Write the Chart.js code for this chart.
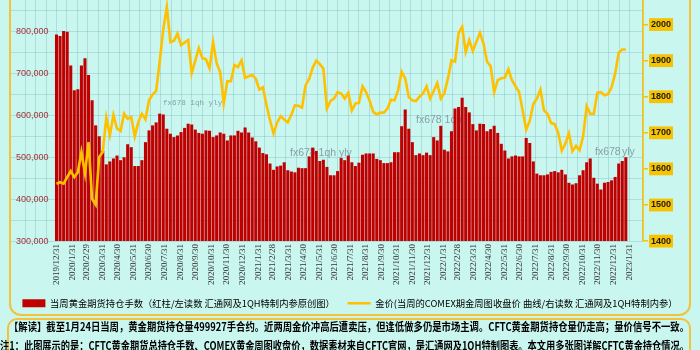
<!DOCTYPE html>
<html>
<head>
<meta charset="utf-8">
<script src="https://cdn.jsdelivr.net/npm/chart.js@4.4.0/dist/chart.umd.min.js"></script>
<style>
  html, body { margin: 0; padding: 0; background: #c9f6ef; }
</style>
</head>
<body>
<canvas id="Chart" width="700" height="350"></canvas>
<script>
// 每周数据：2019/12/31 ～ 2023/1/24
const startDate = '2019-12-31';
const weekStep = 7;

// 当周黄金期货持仓手数（红柱 / 左轴）
const holdings = [
  793000, 789000, 801000, 799000, 719000, 660000, 662000, 719000, 736000, 696000,
  636000, 576000, 550000, 515000, 483000, 490000, 497000, 504000, 493000, 500000,
  531000, 524000, 479000, 479000, 493000, 536000, 564000, 576000, 583000, 604000,
  602000, 568000, 556000, 548000, 552000, 560000, 570000, 580000, 578000, 566000,
  558000, 556000, 564000, 563000, 548000, 552000, 559000, 556000, 540000, 552000,
  552000, 563000, 559000, 571000, 559000, 547000, 538000, 523000, 510000, 507000,
  485000, 470000, 478000, 480000, 488000, 469000, 466000, 464000, 475000, 474000,
  474000, 502000, 523000, 515000, 491000, 494000, 477000, 457000, 457000, 467000,
  498000, 493000, 504000, 488000, 479000, 487000, 506000, 509000, 509000, 509000,
  496000, 493000, 486000, 486000, 488000, 512000, 512000, 574000, 614000, 568000,
  536000, 505000, 509000, 505000, 511000, 505000, 548000, 540000, 575000, 518000,
  514000, 562000, 616000, 620000, 642000, 620000, 607000, 579000, 564000, 580000,
  579000, 562000, 567000, 575000, 558000, 532000, 516000, 497000, 502000, 504000,
  502000, 502000, 546000, 534000, 490000, 461000, 457000, 457000, 459000, 465000,
  467000, 464000, 470000, 459000, 439000, 435000, 438000, 457000, 469000, 488000,
  497000, 451000, 437000, 423000, 439000, 441000, 445000, 453000, 485000, 491000,
  499927
];

// COMEX 期金周收盘价（曲线 / 右轴）
const goldPrice = [
  1559, 1563, 1559, 1577, 1594, 1577, 1591, 1647, 1587, 1674,
  1517, 1501, 1633, 1647, 1742, 1693, 1749, 1712, 1705, 1753,
  1739, 1744, 1690, 1730, 1753, 1737, 1790, 1806, 1816, 1897,
  1986, 2049, 1951, 1955, 1975, 1943, 1950, 1957, 1865, 1900,
  1935, 1907, 1904, 1879, 1951, 1893, 1868, 1782, 1843, 1843,
  1888, 1882, 1901, 1852, 1857, 1860, 1850, 1820, 1826, 1778,
  1735, 1698, 1728, 1746, 1737, 1729, 1750, 1776, 1775, 1770,
  1832, 1849, 1880, 1900, 1890, 1878, 1767, 1788, 1795, 1813,
  1809, 1795, 1811, 1762, 1781, 1783, 1829, 1813, 1789, 1758,
  1751, 1756, 1756, 1767, 1792, 1790, 1818, 1869, 1851, 1799,
  1790, 1788, 1800, 1809, 1829, 1795, 1816, 1838, 1795, 1810,
  1850, 1901, 1897, 1976, 1994, 1924, 1957, 1927, 1952, 1977,
  1948, 1897, 1885, 1813, 1846, 1851, 1853, 1876, 1846, 1829,
  1813, 1762, 1709, 1733, 1780, 1795, 1820, 1762, 1753, 1727,
  1724, 1700, 1651, 1670, 1699, 1649, 1664, 1652, 1690, 1774,
  1753, 1753, 1811, 1813, 1804, 1807, 1826, 1864, 1922, 1931,
  1931
];

// 横轴月末刻度
const monthLabels = [
  '2019/12/31', '2020/1/31', '2020/2/29', '2020/3/31', '2020/4/30', '2020/5/31',
  '2020/6/30', '2020/7/31', '2020/8/31', '2020/9/30', '2020/10/31', '2020/11/30',
  '2020/12/31', '2021/1/31', '2021/2/28', '2021/3/31', '2021/4/30', '2021/5/31',
  '2021/6/30', '2021/7/31', '2021/8/31', '2021/9/30', '2021/10/31', '2021/11/30',
  '2021/12/31', '2022/1/31', '2022/2/28', '2022/3/31', '2022/4/30', '2022/5/31',
  '2022/6/30', '2022/7/31', '2022/8/31', '2022/9/30', '2022/10/31', '2022/11/30',
  '2022/12/31', '2023/1/31'
];

const barLabel = '当周黄金期货持仓手数（红柱/左读数 汇通网及1QH特制内参原创图）\u3000';
const lineLabel = '金价(当周的COMEX期金周图收盘价 曲线/右读数 汇通网及1QH特制内参）';

const note1 = '【解读】截至1月24日当周，黄金期货持仓量499927手合约。近两周金价冲高后遭卖压，但逢低做多仍是市场主调。CFTC黄金期货持仓量仍走高；量价信号不一致。';
const note2 = '注1：此图展示的是：CFTC黄金期货总持仓手数、COMEX黄金周图收盘价，数据素材来自CFTC官网，是汇通网及1QH特制图表。本文用多张图详解CFTC黄金持仓情况。';

// 日期换算成天数
const DAY = 86400000;
const t0 = Date.parse(startDate);
const dayOf = s => { const [y, m, d] = s.split('/').map(Number); return (Date.UTC(y, m - 1, d) - t0) / DAY; };
const weekDays = holdings.map((_, i) => i * weekStep);
const tickDays = monthLabels.map(dayOf);

const xMin = -91.5, xMax = 1153.8;
const bg = '#c9f6ef';
const gridColor = 'rgba(110,175,185,0.33)';
const gold = '#ffc000';

const framePlugin = {
  id: 'frame',
  beforeDraw(chart) {
    const c = chart.ctx;
    c.save();
    c.fillStyle = bg;
    c.fillRect(0, 0, chart.width, chart.height);
    c.restore();
  },
  beforeDatasetsDraw(chart) {
    // 水印
    const c = chart.ctx;
    c.save();
    c.fillStyle = 'rgba(120,145,155,0.85)';
    c.textBaseline = 'middle';
    c.font = '7.6px "Liberation Mono"';
    c.fillText('fx678 1qh yly', 163, 103);
    c.font = '10.5px "Liberation Sans"';
    c.fillText('fx678 1qh yly', 290, 153);
    c.fillText('fx678 1qh', 416, 120);
    c.fillText('fx678', 595, 152);
    c.fillText('yly', 622, 152);
    c.restore();
  },
  afterDraw(chart) {
    const c = chart.ctx;
    const rr = (x, y, w, h, r) => {
      c.beginPath();
      c.moveTo(x + r, y);
      c.arcTo(x + w, y, x + w, y + h, r);
      c.arcTo(x + w, y + h, x, y + h, r);
      c.arcTo(x, y + h, x, y, r);
      c.arcTo(x, y, x + w, y, r);
      c.closePath();
      c.stroke();
    };
    c.save();
    c.strokeStyle = '#f2c23a';
    c.lineWidth = 2;
    rr(10, -20, 680, 335, 11);
    rr(8, 319, 682, 60, 9);
    c.fillStyle = '#000';
    c.textBaseline = 'middle';
    c.font = 'bold 11px "Noto Sans CJK SC"';
    c.fillText(note1, 9, 327, 680);
    c.fillText(note2, 0, 346, 689);
    c.restore();
  }
};

const ctx = document.getElementById('Chart');
new Chart(ctx, {
  data: {
    datasets: [
      {
        type: 'bar',
        label: barLabel,
        data: weekDays.map((x, i) => ({ x, y: holdings[i] })),
        backgroundColor: '#c00000',
        borderWidth: 0,
        categoryPercentage: 1,
        barPercentage: 0.86,
        pointStyle: 'rect',
        xAxisID: 'x',
        yAxisID: 'y',
        order: 1
      },
      {
        type: 'line',
        label: lineLabel,
        data: weekDays.map((x, i) => ({ x, y: goldPrice[i] })),
        borderColor: gold,
        backgroundColor: gold,
        borderWidth: 2.6,
        pointRadius: 0,
        pointBorderWidth: 2.6,
        pointBorderColor: gold,
        pointStyle: 'line',
        tension: 0,
        xAxisID: 'x',
        yAxisID: 'y1',
        order: 0
      }
    ]
  },
  options: {
    responsive: false,
    animation: false,
    devicePixelRatio: 1,
    layout: { padding: { left: 0, right: 0, top: 0, bottom: 32.1 } },
    plugins: {
      legend: {
        position: 'bottom',
        labels: {
          usePointStyle: true,
          pointStyleWidth: 23,
          boxHeight: 8,
          padding: 8,
          color: '#000',
          font: { family: '"Noto Sans CJK SC"', size: 9.3 },
          sort: (a, b) => a.datasetIndex - b.datasetIndex
        }
      },
      tooltip: { enabled: false }
    },
    scales: {
      x: {
        type: 'linear',
        position: 'bottom',
        min: xMin,
        max: xMax,
        offset: false,
        afterBuildTicks: s => { s.ticks = tickDays.map(v => ({ value: v })); },
        afterFit: s => { s.height = 49.5; s.paddingLeft = 0; s.paddingRight = 0; },
        ticks: {
          autoSkip: false,
          maxRotation: 90,
          minRotation: 90,
          padding: 3,
          color: '#333',
          font: { family: '"Liberation Serif"', size: 9 },
          callback: (v, i) => monthLabels[i]
        },
        grid: { display: false, drawTicks: false },
        border: { display: false }
      },
      xg: {
        type: 'linear',
        position: 'bottom',
        min: xMin,
        max: xMax,
        afterFit: s => { s.height = 0; s.paddingLeft = 0; s.paddingRight = 0; },
        ticks: { display: false, stepSize: 20.5 },
        grid: { color: gridColor, drawTicks: false },
        border: { display: false }
      },
      y: {
        type: 'linear',
        position: 'left',
        min: 300000,
        max: 875000,
        afterFit: s => { s.width = 10; s.paddingTop = 0; s.paddingBottom = 0; },
        ticks: {
          stepSize: 25000,
          includeBounds: false,
          mirror: true,
          crossAlign: 'far',
          padding: 6,
          color: '#a8303a',
          font: { family: '"Liberation Sans"', size: 9 },
          callback: v => (v % 100000 === 0 ? v.toLocaleString('en-US') : '')
        },
        grid: { color: gridColor, drawTicks: false },
        border: { display: false }
      },
      y1: {
        type: 'linear',
        position: 'right',
        min: 1400,
        max: 2068,
        afterFit: s => { s.width = 57; s.paddingTop = 0; s.paddingBottom = 0; },
        ticks: {
          stepSize: 100,
          includeBounds: false,
          padding: 3,
          color: '#1a1a1a',
          font: { family: '"Liberation Sans"', size: 9, weight: 'bold' },
          showLabelBackdrop: true,
          backdropColor: '#f7c300',
          backdropPadding: { x: 2, y: 1 },
          callback: v => String(v)
        },
        grid: { drawOnChartArea: false, drawTicks: true, tickLength: 5, color: gold, lineWidth: 1.5 },
        border: { display: true, color: gold, width: 1.5 }
      }
    }
  },
  plugins: [framePlugin]
});
</script>
</body>
</html>
